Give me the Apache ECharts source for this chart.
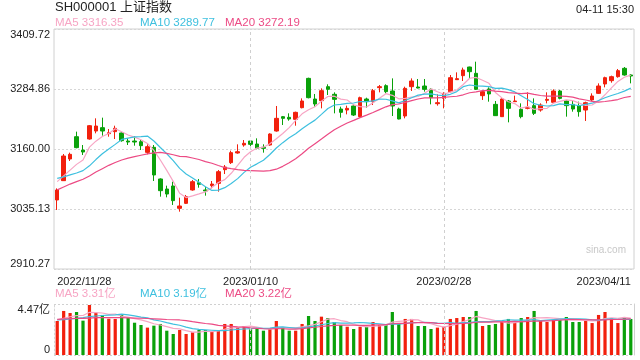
<!DOCTYPE html>
<html>
<head>
<meta charset="utf-8">
<script src="https://cdn.jsdelivr.net/npm/echarts@6/dist/echarts.min.js"></script>
<style>html,body{margin:0;padding:0;background:#fff;}#c{width:640px;height:360px;}</style>
</head>
<body>
<div id="c"></div>
<script>
const dates = ['2022/11/28','2022/11/29','2022/11/30','2022/12/01','2022/12/02','2022/12/05','2022/12/06','2022/12/07','2022/12/08','2022/12/09','2022/12/12','2022/12/13','2022/12/14','2022/12/15','2022/12/16','2022/12/19','2022/12/20','2022/12/21','2022/12/22','2022/12/23','2022/12/26','2022/12/27','2022/12/28','2022/12/29','2022/12/30','2023/01/03','2023/01/04','2023/01/05','2023/01/06','2023/01/09','2023/01/10','2023/01/11','2023/01/12','2023/01/13','2023/01/16','2023/01/17','2023/01/18','2023/01/19','2023/01/20','2023/01/30','2023/01/31','2023/02/01','2023/02/02','2023/02/03','2023/02/06','2023/02/07','2023/02/08','2023/02/09','2023/02/10','2023/02/13','2023/02/14','2023/02/15','2023/02/16','2023/02/17','2023/02/20','2023/02/21','2023/02/22','2023/02/23','2023/02/24','2023/02/27','2023/02/28','2023/03/01','2023/03/02','2023/03/03','2023/03/06','2023/03/07','2023/03/08','2023/03/09','2023/03/10','2023/03/13','2023/03/14','2023/03/15','2023/03/16','2023/03/17','2023/03/20','2023/03/21','2023/03/22','2023/03/23','2023/03/24','2023/03/27','2023/03/28','2023/03/29','2023/03/30','2023/03/31','2023/04/03','2023/04/04','2023/04/06','2023/04/07','2023/04/10','2023/04/11'];

const opens = [3053.9,3094.1,3139.2,3185.6,3157.9,3180.8,3197.4,3204.4,3191.9,3196.1,3193.3,3176.6,3176.6,3175.2,3153.0,3163.5,3097.6,3076.7,3083.0,3036.5,3046.9,3074.7,3089.9,3074.7,3083.7,3088.5,3117.0,3131.6,3151.7,3168.3,3176.6,3170.4,3163.5,3168.3,3197.4,3227.3,3225.9,3221.7,3246.0,3307.0,3264.0,3260.6,3289.7,3273.8,3243.2,3241.1,3249.5,3227.3,3264.0,3258.5,3287.6,3291.8,3280.7,3243.2,3228.7,3289.7,3289.0,3291.1,3284.2,3254.3,3265.4,3279.3,3304.3,3312.6,3330.6,3317.5,3271.0,3284.9,3252.9,3227.3,3259.9,3258.5,3242.5,3244.6,3250.2,3241.1,3261.3,3257.1,3280.7,3259.9,3252.9,3250.2,3241.1,3262.0,3275.8,3295.3,3302.2,3310.5,3327.9,3314.0];
const closes = [3074.7,3145.4,3148.9,3162.8,3153.7,3208.5,3207.8,3197.4,3194.0,3203.0,3177.3,3174.5,3174.5,3166.9,3164.8,3105.9,3073.3,3066.3,3052.5,3041.4,3060.8,3092.0,3086.5,3072.6,3087.1,3112.8,3122.5,3152.4,3154.4,3171.8,3169.7,3161.4,3161.4,3191.2,3223.8,3223.8,3222.4,3236.3,3259.9,3266.8,3253.6,3281.4,3284.2,3263.3,3236.3,3244.6,3230.7,3266.8,3258.5,3281.4,3289.7,3279.3,3249.5,3222.4,3286.2,3301.5,3286.9,3284.2,3266.8,3256.4,3275.8,3308.4,3306.4,3324.4,3320.9,3284.2,3279.3,3274.5,3229.4,3264.0,3244.6,3259.9,3227.3,3246.7,3234.2,3251.5,3263.3,3280.7,3265.4,3250.2,3243.2,3237.7,3256.4,3270.3,3291.1,3308.4,3310.5,3323.0,3314.0,3311.9];
const lows = [3033.1,3093.4,3135.0,3161.4,3147.5,3179.4,3192.6,3187.7,3185.6,3180.8,3175.2,3168.3,3166.9,3157.9,3148.9,3093.4,3060.8,3059.4,3043.5,3029.6,3045.5,3073.3,3079.5,3062.9,3078.1,3071.2,3107.9,3128.8,3150.3,3164.8,3162.8,3159.3,3152.4,3166.9,3196.1,3209.9,3218.9,3208.5,3244.6,3265.4,3248.1,3244.6,3272.4,3234.2,3225.2,3232.1,3228.7,3225.2,3246.0,3251.5,3277.9,3275.8,3228.7,3221.7,3223.8,3280.7,3286.2,3279.3,3252.9,3250.2,3244.6,3277.9,3303.6,3301.5,3307.0,3282.8,3262.0,3258.5,3228.7,3226.6,3215.5,3257.8,3223.8,3242.5,3230.7,3237.7,3255.0,3256.4,3263.3,3227.3,3237.7,3227.3,3218.3,3259.9,3274.5,3288.3,3298.0,3308.4,3312.6,3296.6];
const highs = [3078.1,3149.6,3152.4,3196.1,3168.3,3209.9,3223.8,3225.2,3201.6,3208.5,3194.7,3182.2,3187.0,3178.7,3169.7,3168.3,3098.9,3083.7,3092.0,3058.7,3064.3,3095.5,3097.6,3081.6,3093.4,3116.3,3126.7,3156.5,3169.7,3178.7,3178.7,3182.2,3169.7,3192.6,3249.5,3228.7,3234.2,3237.7,3265.4,3308.4,3274.5,3286.2,3294.6,3277.9,3248.1,3250.2,3252.9,3268.9,3266.8,3284.9,3293.2,3294.6,3307.0,3246.0,3289.7,3307.0,3305.7,3305.7,3286.2,3273.8,3277.9,3314.0,3319.5,3329.3,3331.3,3341.7,3280.7,3288.3,3259.9,3265.4,3262.0,3271.0,3255.0,3277.9,3265.4,3255.0,3277.9,3284.2,3282.8,3262.0,3259.9,3258.5,3258.5,3275.8,3296.6,3310.5,3312.6,3326.5,3330.6,3316.1];

const ma5 = [3092,3104,3116,3128,3137.1,3163.9,3176.3,3186.0,3192.3,3202.1,3195.9,3189.2,3184.7,3179.2,3171.6,3157.3,3137.1,3115.4,3092.6,3067.9,3058.9,3062.6,3066.6,3070.7,3079.8,3090.2,3096.3,3109.5,3125.8,3142.8,3154.2,3161.9,3163.7,3171.1,3181.5,3192.3,3204.5,3219.5,3233.2,3241.8,3247.8,3259.6,3269.2,3269.9,3263.8,3262.0,3251.8,3248.3,3247.4,3256.4,3265.4,3275.1,3271.7,3264.5,3265.4,3267.8,3269.3,3276.2,3285.1,3279.2,3274.0,3278.3,3282.8,3294.3,3307.2,3308.9,3303.0,3296.7,3277.7,3266.3,3258.4,3254.5,3245.0,3248.5,3242.5,3243.9,3244.6,3255.3,3259.0,3262.2,3260.6,3255.4,3250.6,3251.6,3259.7,3272.8,3287.3,3300.7,3309.4,3313.6];
const ma10 = [3099,3102,3106,3110,3115,3125,3138,3150,3160,3169.6,3179.9,3182.8,3185.4,3185.8,3186.9,3176.6,3163.2,3150.1,3135.9,3119.7,3108.1,3099.8,3091.0,3081.6,3073.8,3074.5,3079.5,3088.1,3098.3,3111.3,3122.2,3129.1,3136.6,3148.5,3162.1,3173.2,3183.2,3191.6,3202.2,3211.7,3220.1,3232.1,3244.3,3251.6,3252.8,3254.9,3255.7,3258.8,3258.6,3260.1,3263.7,3263.5,3260.0,3255.9,3260.9,3266.6,3272.2,3274.0,3274.8,3272.3,3270.9,3273.8,3279.5,3289.7,3293.2,3291.4,3290.7,3289.7,3286.0,3286.7,3283.6,3278.8,3270.9,3263.1,3254.4,3251.1,3249.5,3250.2,3253.8,3252.4,3252.2,3250.0,3252.9,3255.3,3261.0,3266.7,3271.4,3275.6,3280.5,3286.7];
const ma20 = [3075,3081,3087,3092,3097,3104,3112,3119,3126,3132,3137,3141,3144,3147,3150,3152,3153,3151,3148,3144.7,3144.0,3141.3,3138.2,3133.7,3130.4,3125.6,3121.3,3119.1,3117.1,3115.5,3115.1,3114.5,3113.8,3115.0,3118.0,3123.9,3131.3,3139.8,3150.2,3161.5,3171.1,3180.6,3190.5,3200.0,3207.5,3214.1,3219.5,3225.2,3230.4,3235.9,3241.9,3247.8,3252.2,3253.7,3256.9,3260.7,3264.0,3266.4,3266.7,3266.2,3267.3,3268.7,3269.8,3272.8,3277.0,3279.0,3281.5,3281.8,3280.4,3279.5,3277.3,3276.3,3275.2,3276.4,3273.8,3271.3,3270.1,3269.9,3269.9,3269.6,3267.9,3264.4,3261.9,3259.2,3257.7,3258.9,3260.5,3262.9,3267.1,3269.5];

const volumes = [2.98,3.86,3.68,3.77,3.01,4.38,3.71,3.51,3.18,3.16,3.51,3.27,2.83,2.63,2.40,2.57,2.72,2.13,1.84,2.19,1.84,1.99,2.19,2.19,2.05,2.13,2.72,2.72,2.40,2.54,2.25,2.28,2.13,2.25,2.98,2.40,2.13,2.13,2.72,3.42,2.98,3.36,3.24,2.89,2.63,2.48,2.28,2.48,2.48,2.89,2.63,2.63,3.77,2.78,3.16,3.16,2.54,2.54,2.28,2.40,2.48,3.16,3.24,3.33,3.33,3.86,2.54,2.63,2.72,2.89,3.16,2.80,3.24,3.33,3.86,3.07,2.89,3.07,3.07,3.33,2.89,2.89,2.98,2.80,3.51,3.77,3.24,2.80,3.24,3.16];
const volMa5 = [3.07,3.21,3.35,3.45,3.46,3.74,3.71,3.68,3.56,3.59,3.41,3.33,3.19,3.08,2.93,2.74,2.63,2.49,2.33,2.29,2.14,2.00,2.01,2.08,2.05,2.11,2.26,2.36,2.40,2.50,2.53,2.44,2.32,2.29,2.38,2.41,2.38,2.38,2.47,2.56,2.68,2.92,3.14,3.18,3.02,2.92,2.70,2.55,2.47,2.52,2.55,2.62,2.88,2.94,2.99,3.10,3.08,2.84,2.74,2.58,2.45,2.57,2.71,2.92,3.11,3.38,3.26,3.14,3.02,2.93,2.79,2.84,2.96,3.08,3.28,3.26,3.28,3.24,3.19,3.09,3.05,3.05,3.03,2.98,3.01,3.19,3.26,3.22,3.31,3.24];
const volMa10 = [3.07,3.10,3.16,3.21,3.27,3.36,3.42,3.46,3.50,3.52,3.58,3.52,3.43,3.32,3.26,3.08,2.98,2.84,2.71,2.61,2.44,2.31,2.25,2.21,2.17,2.13,2.13,2.19,2.24,2.28,2.32,2.35,2.34,2.35,2.44,2.47,2.41,2.35,2.38,2.47,2.54,2.65,2.76,2.83,2.79,2.80,2.81,2.85,2.82,2.77,2.74,2.66,2.72,2.71,2.76,2.83,2.85,2.86,2.84,2.79,2.77,2.83,2.77,2.83,2.85,2.92,2.92,2.93,2.97,3.02,3.09,3.05,3.05,3.05,3.10,3.02,3.06,3.10,3.14,3.18,3.16,3.16,3.14,3.09,3.05,3.12,3.16,3.13,3.15,3.13];
const volMa20 = [3.13,3.16,3.18,3.21,3.21,3.24,3.27,3.27,3.27,3.27,3.27,3.26,3.24,3.22,3.20,3.17,3.14,3.11,3.09,3.07,3.01,2.92,2.84,2.76,2.71,2.60,2.55,2.51,2.47,2.44,2.38,2.33,2.30,2.28,2.31,2.30,2.27,2.27,2.31,2.37,2.43,2.50,2.55,2.59,2.62,2.63,2.61,2.60,2.60,2.62,2.64,2.66,2.74,2.77,2.77,2.81,2.83,2.85,2.83,2.78,2.76,2.75,2.75,2.77,2.80,2.87,2.88,2.89,2.90,2.90,2.93,2.94,2.91,2.94,2.97,2.97,2.99,3.01,3.05,3.10,3.12,3.11,3.09,3.07,3.08,3.07,3.11,3.12,3.14,3.16];

const priceTickLabels = ['2910.27','3035.13','3160.00','3284.86','3409.72'];
const volTickLabels = ['0','4.47亿'];
const xLabelIndexes = [0, 30, 60, 89];
const gridLineDates = ['2023/01/10', '2023/02/28'];
const titleText = 'SH000001 上证指数';
const timeText = '04-11 15:30';
const priceLegend = ['MA5 3316.35', 'MA10 3289.77', 'MA20 3272.19'];
const volLegend = ['MA5 3.31亿', 'MA10 3.19亿', 'MA20 3.22亿'];

const UP = '#f2200d', DOWN = '#0aa10a';
const C5 = '#f7a5c4', C10 = '#3ec0df', C20 = '#ec4a84';
const FONT = 'Arial, "Liberation Sans", "Noto Sans CJK SC", sans-serif';

const candleData = dates.map((d, i) => [opens[i], closes[i], lows[i], highs[i]]);
const volData = volumes.map((v, i) => ({ value: v, itemStyle: { color: closes[i] >= opens[i] ? UP : DOWN } }));

const vLines = {
  silent: true, symbol: ['none', 'none'], animation: false,
  label: { show: false },
  lineStyle: { color: '#cfcfcf', type: [3, 3], width: 1 },
  data: gridLineDates.map(d => ({ xAxis: d }))
};

function maLine(name, data, color, xi, yi) {
  return { name, type: 'line', data, xAxisIndex: xi, yAxisIndex: yi, symbol: 'none', smooth: false,
    lineStyle: { color, width: 1.2 }, itemStyle: { color }, silent: true, z: 3 };
}

const chart = echarts.init(document.getElementById('c'), null, { renderer: 'canvas' });
chart.setOption({
  animation: false,
  textStyle: { fontFamily: FONT },
  grid: [
    { left: 54, top: 29, width: 580, height: 240, show: true, borderColor: '#d0d0d0', borderWidth: 1, backgroundColor: 'transparent' },
    { left: 54, top: 304, width: 580, height: 51, show: false }
  ],
  xAxis: [
    { type: 'category', gridIndex: 0, data: dates, boundaryGap: true,
      axisLine: { show: false }, axisTick: { show: false }, splitLine: { show: false },
      axisLabel: { interval: (idx) => xLabelIndexes.includes(idx), color: '#222', fontSize: 11, margin: 7,
        alignMinLabel: 'left', alignMaxLabel: 'right', fontFamily: FONT } },
    { type: 'category', gridIndex: 1, data: dates, boundaryGap: true,
      axisLine: { show: false }, axisTick: { show: false }, axisLabel: { show: false }, splitLine: { show: false } }
  ],
  yAxis: [
    { type: 'value', gridIndex: 0, min: 2910.27, max: 3409.72, show: false, scale: true },
    { type: 'value', gridIndex: 0, min: 0, max: 4, interval: 1, position: 'left',
      axisLine: { show: false }, axisTick: { show: false },
      axisLabel: { formatter: (v) => priceTickLabels[Math.round(v)], color: '#222', fontSize: 11, margin: 4,
        verticalAlignMaxLabel: 'top', verticalAlignMinLabel: 'bottom', fontFamily: FONT },
      splitLine: { show: true, lineStyle: { color: '#d6d6d6', type: [2, 2] } } },
    { type: 'value', gridIndex: 1, min: 0, max: 4.47, interval: 4.47, position: 'left',
      axisLine: { show: true, lineStyle: { color: '#d6d6d6', type: [2, 2] } }, axisTick: { show: false },
      axisLabel: { formatter: (v) => (v === 0 ? volTickLabels[0] : volTickLabels[1]), color: '#222', fontSize: 11, margin: 4,
        verticalAlignMaxLabel: 'top', verticalAlignMinLabel: 'bottom', fontFamily: FONT },
      splitLine: { show: true, lineStyle: { color: '#d0d0d0', type: [2, 2] } } },
    { type: 'value', gridIndex: 1, min: 0, max: 1, position: 'right',
      axisLine: { show: true, lineStyle: { color: '#d0d0d0' } }, axisTick: { show: false },
      axisLabel: { show: false }, splitLine: { show: false } }
  ],
  series: [
    { type: 'candlestick', xAxisIndex: 0, yAxisIndex: 0, data: candleData, barWidth: '62%', silent: true,
      itemStyle: { color: UP, color0: DOWN, borderColor: UP, borderColor0: DOWN, borderWidth: 1 },
      markLine: vLines, z: 2 },
    maLine('MA5', ma5, C5, 0, 0),
    maLine('MA10', ma10, C10, 0, 0),
    maLine('MA20', ma20, C20, 0, 0),
    { type: 'bar', xAxisIndex: 1, yAxisIndex: 2, data: volData, barWidth: '50%', silent: true, markLine: vLines, z: 2 },
    maLine('VMA5', volMa5, C5, 1, 2),
    maLine('VMA10', volMa10, C10, 1, 2),
    maLine('VMA20', volMa20, C20, 1, 2)
  ],
  graphic: [
    { type: 'text', left: 55, top: 1, style: { text: titleText, fontSize: 13, fill: '#222', fontFamily: FONT } },
    { type: 'text', right: 6, top: 4, style: { text: timeText, fontSize: 11, fill: '#222', fontFamily: FONT } },
    { type: 'text', left: 55, top: 17, style: { text: priceLegend[0], fontSize: 11.5, fill: C5, fontFamily: FONT } },
    { type: 'text', left: 140, top: 17, style: { text: priceLegend[1], fontSize: 11.5, fill: C10, fontFamily: FONT } },
    { type: 'text', left: 225, top: 17, style: { text: priceLegend[2], fontSize: 11.5, fill: C20, fontFamily: FONT } },
    { type: 'text', left: 55, top: 288, style: { text: volLegend[0], fontSize: 11.5, fill: C5, fontFamily: FONT } },
    { type: 'text', left: 140, top: 288, style: { text: volLegend[1], fontSize: 11.5, fill: C10, fontFamily: FONT } },
    { type: 'text', left: 225, top: 288, style: { text: volLegend[2], fontSize: 11.5, fill: C20, fontFamily: FONT } },
    { type: 'text', right: 14, top: 245, style: { text: 'sina.com', fontSize: 10, fill: '#c8c8c8', fontFamily: FONT } }
  ]
});
</script>
</body>
</html>
